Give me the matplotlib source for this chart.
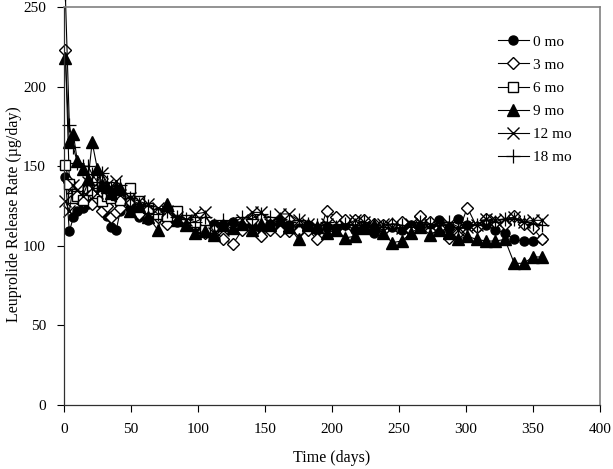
import matplotlib
matplotlib.use("Agg")
import matplotlib.pyplot as plt
import numpy as np

plt.rcParams['font.family'] = ['Liberation Serif', 'DejaVu Serif']

days = [1, 4, 7, 10, 14, 18, 21, 25, 28, 32, 35, 39, 42, 49, 56, 63, 70, 77, 84, 91,
        98, 105, 112, 119, 126, 133, 140, 147, 154, 161, 168, 175, 182, 189, 196, 203,
        210, 217, 224, 231, 238, 245, 252, 259, 266, 273, 280, 287, 294, 301, 308, 315,
        322, 329, 336, 343, 350, 357]

mo0 = [143, 109, 118, 122, 124, 126, 127, 129, 126, 119, 112, 110, 122, 124, 118, 116,
       121, 117, 115, 113, 112, 110, 114, 113, 115, 112, 113, 111, 114, 112, 113, 111,
       113, 110, 112, 111, 113, 110, 112, 108, 113, 112, 110, 113, 112, 114, 116, 111,
       117, 113, 112, 113, 110, 108, 104, 103, 103, 104]

mo3 = [223, 140, 133, 130, 128, 135, 126, 130, 122, 125, 118, 121, 124, 128, 120, 122,
       118, 114, 117, 115, 113, 108, 110, 104, 101, 110, 116, 106, 110, 109, 109, 109,
       110, 104, 122, 118, 116, 116, 116, 114, 113, 114, 115, 110, 119, 115, 111, 105,
       108, 124, 112, 117, 115, 114, 119, 114, 111, 104]

mo6 = [151, 139, 130, 131, 129, 136, 135, 133, 128, 131, 130, 132, 129, 136, 128, 124,
       120, 119, 122, 116, 115, 110]

mo9 = [218, 165, 170, 153, 148, 142, 165, 148, 138, 137, 133, 136, 136, 122, 125, 118,
       110, 126, 116, 113, 108, 109, 107, 113, 111, 114, 110, 114, 113, 117, 112, 104,
       113, 112, 108, 110, 105, 106, 111, 113, 108, 102, 103, 108, 112, 107, 110, 108,
       104, 106, 104, 103, 103, 104, 89, 89, 93, 93]

mo12 = [128, 122, 138, 135, 131, 140, 136, 133, 146, 138, 136, 141, 132, 130, 128, 126,
        124, 122, 118, 116, 120, 121, 108, 110, 112, 116, 121, 121, 114, 120, 120, 116,
        114, 112, 114, 110, 113, 116, 115, 112, 114, 112, 111, 114, 115, 113, 112, 114,
        110, 112, 113, 117, 116, 117, 118, 115, 116, 116]

mo18 = [258, 176, 162, 152, 150, 150, 145, 140, 146, 140, 136, 132, 138, 130, 126, 125,
        120, 122, 118, 117, 115, 118, 113, 116, 114, 118, 117, 120, 118, 117, 115, 116,
        114, 113, 115, 112, 114, 113, 115, 113, 112, 114, 113, 112, 115, 114, 113, 115,
        112, 114, 113, 116, 115, 117, 117, 115, 114, 113]

labels = ['0 mo', '3 mo', '6 mo', '9 mo', '12 mo', '18 mo']
series = [mo0, mo3, mo6, mo9, mo12, mo18]
styles = [
    dict(marker='o', markersize=6.5, markerfacecolor='black', markeredgecolor='black'),
    dict(marker='D', markersize=6.5, markerfacecolor='white', markeredgecolor='black'),
    dict(marker='s', markersize=7, markerfacecolor='white', markeredgecolor='black'),
    dict(marker='^', markersize=8, markerfacecolor='black', markeredgecolor='black'),
    dict(marker='x', markersize=8, markeredgecolor='black', markeredgewidth=1.0),
    dict(marker='+', markersize=10.5, markeredgecolor='black', markeredgewidth=0.9),
]

fig = plt.figure(figsize=(6.13, 4.69), dpi=100)
ax = fig.add_axes([0.1044, 0.1365, 0.8744, 0.8485])

for lab, vals, st in zip(labels, series, styles):
    ax.plot(days[:len(vals)], vals, color='black', linewidth=0.8, label=lab,
            clip_on=False, **st)

ax.set_xlim(0, 400)
ax.set_ylim(0, 250)
ax.set_xticks(np.arange(0, 401, 50))
ax.set_yticks(np.arange(0, 251, 50))
ax.tick_params(direction='out', length=5, width=0.8, labelsize=11, pad=8)
for s in ['left', 'bottom']:
    ax.spines[s].set_color('#303030')
    ax.spines[s].set_linewidth(0.9)
for s in ['top', 'right']:
    ax.spines[s].set_color('#808080')
    ax.spines[s].set_linewidth(1.2)

ax.set_xlabel('Time (days)', fontsize=11.5, labelpad=10)
ax.set_ylabel('Leuprolide Release Rate (µg/day)', fontsize=11.5)
ax.yaxis.set_label_coords(-0.078, 0.48)

leg = ax.legend(loc='upper left', bbox_to_anchor=(0.81, 0.93), frameon=False,
                fontsize=11, handlelength=2.0, labelspacing=0.62, handletextpad=0.3,
                borderaxespad=0, borderpad=0)

fig.savefig('out.png', dpi=100)
